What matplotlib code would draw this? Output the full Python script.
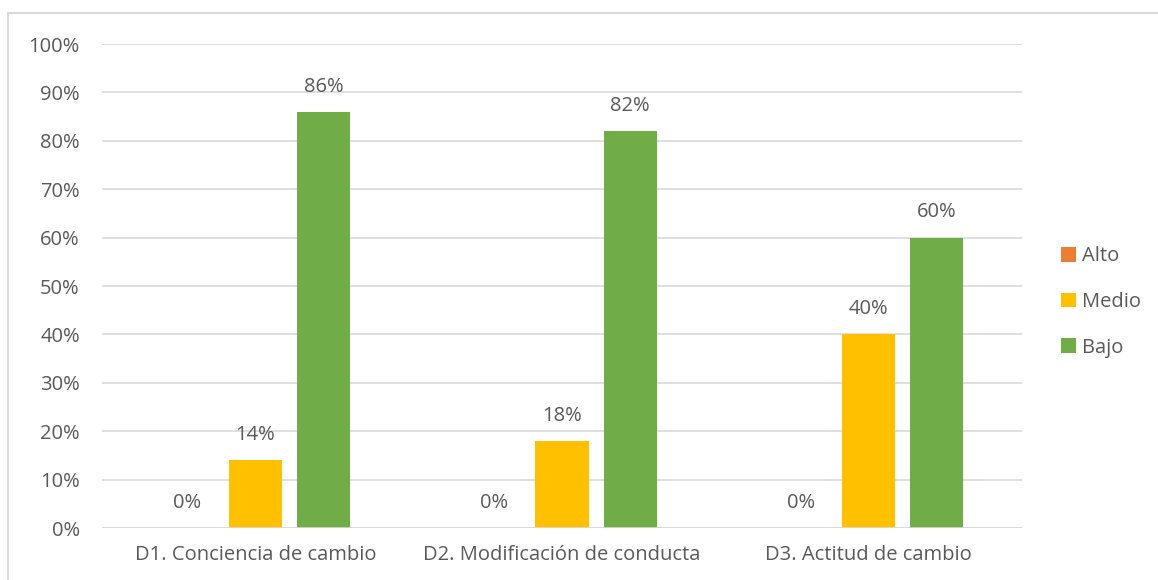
import matplotlib
matplotlib.use("Agg")
import matplotlib.pyplot as plt
from matplotlib.lines import Line2D
import numpy as np

plt.rcParams['font.family'] = ['Open Sans', 'DejaVu Sans']

categorias = ["D1. Conciencia de cambio", "D2. Modificación de conducta", "D3. Actitud de cambio"]
series = ["Alto", "Medio", "Bajo"]
alto = [0, 0, 0]
medio = [14, 18, 40]
bajo = [86, 82, 60]
colores = ["#ED7D31", "#FFC000", "#70AD47"]

fig = plt.figure(figsize=(11.58, 5.8), dpi=100)
ax = fig.add_axes([102 / 1158, 1 - 528 / 580, 920 / 1158, 484 / 580])

x = np.arange(len(categorias))
ancho = 0.173
paso = 0.222
texto = "#595959"
fs = 14.5
for i, (nombre, vals, col) in enumerate(zip(series, [alto, medio, bajo], colores)):
    pos = x + (i - 1) * paso
    ax.bar(pos, vals, width=ancho, color=col, label=nombre, zorder=2)
    for p, v in zip(pos, vals):
        ax.text(p, v + 5.2, f"{v}%", ha="center", va="center", fontsize=fs, color=texto)

ax.set_xlim(-0.5, len(categorias) - 0.5)
ax.set_ylim(0, 100)
ax.set_yticks(range(0, 101, 10))
ax.set_yticklabels([f"{v}%" for v in range(0, 101, 10)])
ax.set_xticks(x)
ax.set_xticklabels(categorias)
ax.tick_params(length=0, labelsize=fs, labelcolor=texto)
ax.tick_params(axis="y", pad=16)
ax.tick_params(axis="x", pad=12)
ax.grid(axis="y", color="#D9D9D9", linewidth=1.2, zorder=0)
for s in ax.spines.values():
    s.set_visible(False)
ax.axhline(0, color="#D9D9D9", linewidth=1.2, zorder=3)

leg = fig.legend(loc="center left", bbox_to_anchor=(1061 / 1158, 1 - 302 / 580), frameon=False,
                 fontsize=fs, handlelength=0.72, handleheight=0.72, handletextpad=0.3,
                 labelspacing=1.27, borderpad=0, borderaxespad=0)
for t in leg.get_texts():
    t.set_color(texto)

fig.add_artist(Line2D([8 / 1158, 1], [1 - 13 / 580, 1 - 13 / 580], color="#D9D9D9", linewidth=1.5))
fig.add_artist(Line2D([8 / 1158, 8 / 1158], [0, 1 - 13 / 580], color="#D9D9D9", linewidth=1.5))

fig.savefig("out.png", dpi=100)
